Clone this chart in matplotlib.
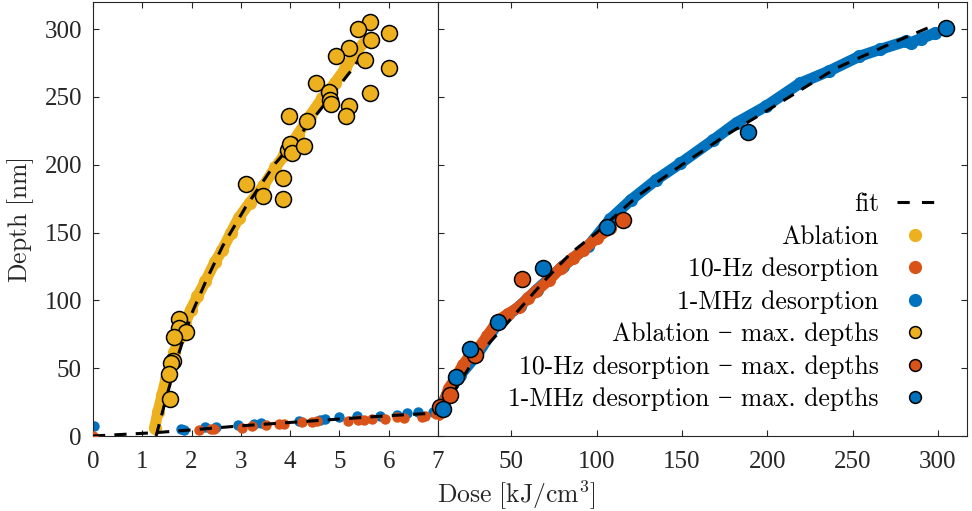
import numpy as np
import matplotlib.pyplot as plt
from matplotlib.lines import Line2D

plt.rcParams.update({
    'font.family': 'Liberation Serif',
    'mathtext.fontset': 'cm',
    'font.size': 18,
})

YELLOW = '#EDB120'
ORANGE = '#D95319'
BLUE = '#0072BD'
AXC = '#262626'

# ---- left panel (0-7 kJ/cm3) ----
abl_x = [1.25, 1.32, 1.40, 1.48, 1.56, 1.65, 1.75, 1.86, 1.98, 2.12, 2.28, 2.47, 2.62,
         2.80, 2.96, 3.18, 3.45, 3.70, 3.88, 4.15, 4.40, 4.65, 4.90, 5.12, 5.35, 5.55]
abl_y = [6, 18, 30, 42, 52, 62, 72, 82, 93, 103, 114, 128, 137,
         150, 161, 172, 184, 198, 207, 222, 236, 249, 260, 271, 284, 292]

abl_max_x = [5.62, 5.37, 6.01, 5.64, 5.19, 4.94, 5.52, 6.01, 4.53, 4.78, 5.62, 4.80, 4.82,
             5.19, 5.14, 3.97, 4.34, 3.96, 3.99, 4.03, 4.28, 3.10, 3.45, 3.86, 3.85,
             1.74, 1.75, 1.89, 1.65, 1.62, 1.58, 1.54, 1.56]
abl_max_y = [305, 300, 297, 292, 286, 280, 277, 271, 260, 254, 253, 248, 245,
             243, 236, 236, 232, 211, 215, 209, 214, 186, 177, 190, 175,
             86, 80, 77, 73, 55, 54, 46, 27]

hz_low_x = [0, 2.16, 2.39, 2.45, 3.03, 3.23, 3.50, 3.77, 3.87, 4.24, 4.44, 4.54, 5.18,
            5.38, 5.49, 5.66, 5.93, 6.17, 6.30, 6.68, 6.73, 6.95]
hz_low_y = [0, 4.4, 5, 5.3, 6, 7.4, 8, 8.6, 9, 10, 10.3, 10.8, 10.8,
            12, 12, 12.5, 12.5, 13.8, 13.3, 14.2, 15, 16]
mhz_low_x = [0.02, 1.79, 1.85, 2.28, 2.49, 2.95, 3.27, 3.40, 4.17, 4.61, 4.71, 5.00,
             5.36, 5.83, 6.17, 6.37, 6.60, 6.90]
mhz_low_y = [7.4, 5, 4.4, 6.4, 7, 8, 9, 9.4, 10.8, 12, 12.8, 13.8,
             14.5, 15, 15.7, 17, 17.5, 18]

fit_abl_x = [1.28, 1.5, 1.75, 2.0, 2.3, 2.63, 3.1, 3.7, 4.2, 4.6, 5.25, 5.62]
fit_abl_y = [0, 30, 62, 90, 115, 140, 169, 201, 222, 240, 270, 289]
fit_des_low_x = [0, 1.28, 2, 3, 4, 5, 6, 7]
fit_des_low_y = [0, 2.5, 4.5, 7.5, 10, 12.5, 15, 17]

# ---- right panel (7-317 kJ/cm3) ----
hz_x = [7, 10, 13.2, 17, 21.4, 25, 29.7, 36, 42, 48, 54.4, 60, 64.7, 72, 79, 86, 92,
        100, 108]
hz_y = [16, 22, 35, 42, 52, 58, 63, 74, 85, 90, 95, 102, 107, 115, 124, 131, 137,
        146, 153]
mhz_x = [7, 12, 20, 30, 42, 55, 65, 80, 95, 108, 120, 135, 149, 168, 182, 199, 219,
         236, 254, 266, 281]
mhz_y = [18, 30, 45, 60, 83, 96, 108, 125, 140, 160, 174, 189, 201, 218, 231, 243,
         260, 269, 280, 285, 291]
mhz_x2 = [284, 290, 298]
mhz_y2 = [290, 293, 297]

hz_max_x = [8, 14.2, 28.6, 56, 115.2]
hz_max_y = [21.6, 30.2, 59.7, 116, 159.3]
mhz_max_x = [10.1, 17.3, 25.5, 42.4, 68.8, 105.9, 188.4, 304.8]
mhz_max_y = [19.7, 43.3, 64.2, 84.3, 123.7, 154.4, 224.5, 300.7]

fit_des_x = [7, 11, 20, 28, 46, 69, 85, 100, 124, 150, 176, 200, 240, 270, 298]
fit_des_y = [17, 22, 40, 56, 81, 114, 135, 150, 177, 200, 222, 240, 271, 288, 303]

W, H = 972, 511
fig = plt.figure(figsize=(W / 100, H / 100), dpi=100)
ax1 = fig.add_axes([93 / W, 75 / H, 345 / W, 434 / H])
ax2 = fig.add_axes([438 / W, 75 / H, 529 / W, 434 / H])

DOT = 6.5
BIG = 11.5
BAND = 8
fitkw = dict(color='k', ls='--', lw=2.2, dashes=(4, 3), zorder=4)
bandkw = dict(lw=BAND, solid_capstyle='round', solid_joinstyle='round')

# left
ax1.plot(abl_x, abl_y, color=YELLOW, zorder=2, **bandkw)
ax1.plot(abl_x, abl_y, 'o', color=YELLOW, ms=DOT + 2, zorder=2)
ax1.plot(mhz_low_x, mhz_low_y, 'o', color=BLUE, ms=DOT, zorder=2)
ax1.plot(hz_low_x, hz_low_y, 'o', color=ORANGE, ms=DOT, zorder=3)
ax1.plot(fit_des_low_x, fit_des_low_y, **fitkw)
ax1.plot(fit_abl_x, fit_abl_y, **fitkw)
ax1.plot(abl_max_x, abl_max_y, 'o', mfc=YELLOW, mec='k', mew=1.1, ms=BIG, zorder=5,
         clip_on=False)

# right
ax2.plot(mhz_x, mhz_y, color=BLUE, zorder=2, **bandkw)
ax2.plot(mhz_x2, mhz_y2, color=BLUE, zorder=2, **bandkw)
ax2.plot(mhz_x + mhz_x2, mhz_y + mhz_y2, 'o', color=BLUE, ms=DOT + 2, zorder=2)
ax2.plot(hz_x, hz_y, color=ORANGE, zorder=3, **bandkw)
ax2.plot(hz_x, hz_y, 'o', color=ORANGE, ms=DOT + 2, zorder=3)
ax2.plot(fit_des_x, fit_des_y, **fitkw)
ax2.plot(hz_max_x, hz_max_y, 'o', mfc=ORANGE, mec='k', mew=1.1, ms=BIG, zorder=5,
         clip_on=False)
ax2.plot(mhz_max_x, mhz_max_y, 'o', mfc=BLUE, mec='k', mew=1.1, ms=BIG, zorder=5,
         clip_on=False)

ax1.set_xlim(0, 7)
ax2.set_xlim(7, 317)
for ax in (ax1, ax2):
    ax.set_ylim(0, 320)
    ax.set_yticks(np.arange(0, 301, 50))
    for s in ax.spines.values():
        s.set_color(AXC)
        s.set_linewidth(0.8)
    ax.tick_params(direction='in', length=4, width=0.8, color=AXC, labelcolor=AXC,
                   labelsize=18, top=True)
    ax.tick_params(axis='x', pad=11)
    ax.tick_params(axis='y', pad=8)
ax1.set_xticks(range(0, 7))
ax2.set_xticks([7, 50, 100, 150, 200, 250, 300])
ax2.tick_params(right=True, labelleft=False)

fig.text(21 / W, 1 - 220 / H, r'$\mathrm{Depth\ [nm]}$', rotation=90,
         ha='center', va='center', fontsize=18.5, color=AXC)
fig.text(516 / W, 1 - 495 / H, r'$\mathrm{Dose\ [kJ/cm^3]}$',
         ha='center', va='center', fontsize=18.5, color=AXC)

handles = [
    Line2D([], [], color='k', ls='--', lw=2.2, dashes=(4, 4)),
    Line2D([], [], ls='none', marker='o', ms=8.5, color=YELLOW),
    Line2D([], [], ls='none', marker='o', ms=8.5, color=ORANGE),
    Line2D([], [], ls='none', marker='o', ms=8.5, color=BLUE),
    Line2D([], [], ls='none', marker='o', ms=8.5, mfc=YELLOW, mec='k', mew=1.1),
    Line2D([], [], ls='none', marker='o', ms=8.5, mfc=ORANGE, mec='k', mew=1.1),
    Line2D([], [], ls='none', marker='o', ms=8.5, mfc=BLUE, mec='k', mew=1.1),
]
labels = ['fit', 'Ablation', '10-Hz desorption', '1-MHz desorption',
          'Ablation \u2212 max. depths', '10-Hz desorption \u2212 max. depths',
          '1-MHz desorption \u2212 max. depths']
leg = ax2.legend(handles, labels, loc='center right',
                 bbox_to_anchor=(934 / W, 1 - 302 / H), bbox_transform=fig.transFigure,
                 markerfirst=False, frameon=False, handlelength=1.45, handletextpad=0.7,
                 labelspacing=0.34, borderpad=0, borderaxespad=0,
                 prop={'family': ['cmr10', 'Liberation Serif'], 'size': 18.5})
for t in leg.get_texts():
    t.set_color('k')

fig.savefig('out.png', dpi=100)
